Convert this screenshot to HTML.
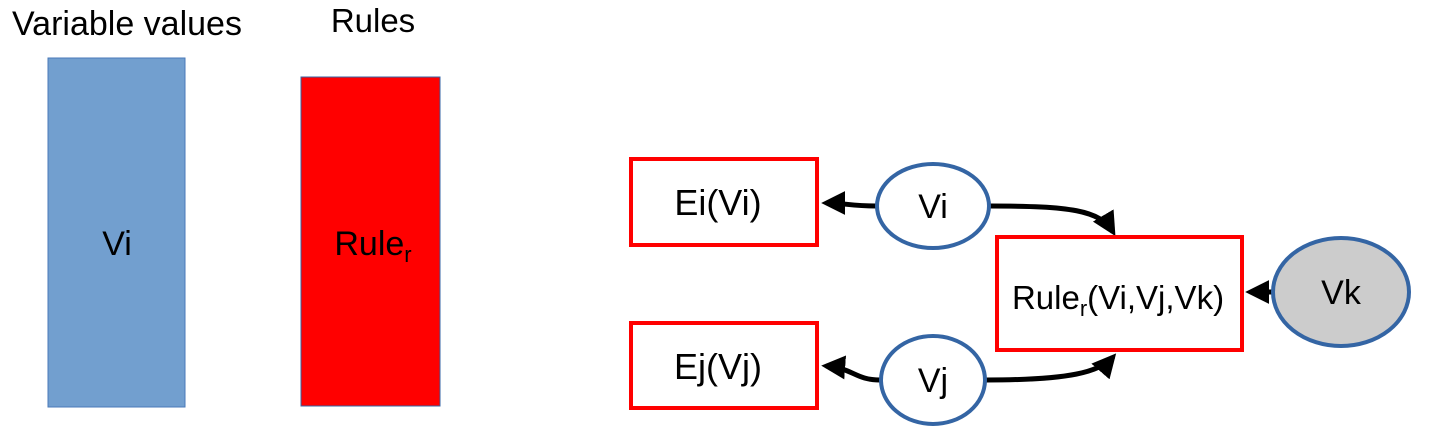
<!DOCTYPE html>
<html><head><meta charset="utf-8"><style>
body{margin:0;background:#fff;}
svg{display:block;font-family:"Liberation Sans",sans-serif;}
</style></head><body>
<svg width="1431" height="433" viewBox="0 0 1431 433">
<defs><marker id="ah" viewBox="0 0 10 10" refX="8" refY="5" markerWidth="4.8" markerHeight="4.8" orient="auto"><path d="M0,0 L10,5 L0,10 z" fill="#000"/></marker></defs>
<text x="127" y="35" font-size="34" text-anchor="middle">Variable values</text>
<text x="373" y="32" font-size="33" text-anchor="middle">Rules</text>
<rect x="48" y="58" width="137" height="349" fill="#729fcf" stroke="#4a7ab8" stroke-width="1"/>
<text x="117" y="255" font-size="34" text-anchor="middle">Vi</text>
<rect x="301" y="77" width="139" height="329" fill="#ff0000" stroke="#3465a4" stroke-width="1"/>
<text x="373" y="255" font-size="34" text-anchor="middle">Rule<tspan font-size="22" dy="7">r</tspan></text>

<g stroke="#000" stroke-width="5" fill="none">
<path d="M876,206 C850,206 845,203 826,203" marker-end="url(#ah)"/>
<path d="M880,380 C855,380 853,368 826,366" marker-end="url(#ah)"/>
<path d="M990,206 C1070,206 1100,210 1113,232" marker-end="url(#ah)"/>
<path d="M986,380 C1070,380 1100,372 1113,357" marker-end="url(#ah)"/>
<path d="M1272,292 L1250,292" marker-end="url(#ah)"/>
</g>

<rect x="631" y="159" width="186" height="86" fill="#fff" stroke="#ff0000" stroke-width="4"/>
<text x="718" y="215" font-size="36" text-anchor="middle">Ei(Vi)</text>
<rect x="631" y="323" width="186" height="85" fill="#fff" stroke="#ff0000" stroke-width="4"/>
<text x="718" y="379" font-size="36" text-anchor="middle">Ej(Vj)</text>
<ellipse cx="933" cy="206" rx="56" ry="42" fill="#fff" stroke="#3465a4" stroke-width="4"/>
<text x="933" y="218" font-size="34" text-anchor="middle">Vi</text>
<ellipse cx="933" cy="380" rx="52" ry="44" fill="#fff" stroke="#3465a4" stroke-width="4"/>
<text x="933" y="392" font-size="34" text-anchor="middle">Vj</text>
<rect x="997" y="237" width="245" height="113" fill="#fff" stroke="#ff0000" stroke-width="4"/>
<text x="1118" y="309" font-size="33" text-anchor="middle">Rule<tspan font-size="22" dy="7">r</tspan><tspan dy="-7">(Vi,Vj,Vk)</tspan></text>
<ellipse cx="1341" cy="292" rx="68" ry="54" fill="#cccccc" stroke="#3465a4" stroke-width="4"/>
<text x="1341" y="304" font-size="34" text-anchor="middle">Vk</text>
</svg>
</body></html>
